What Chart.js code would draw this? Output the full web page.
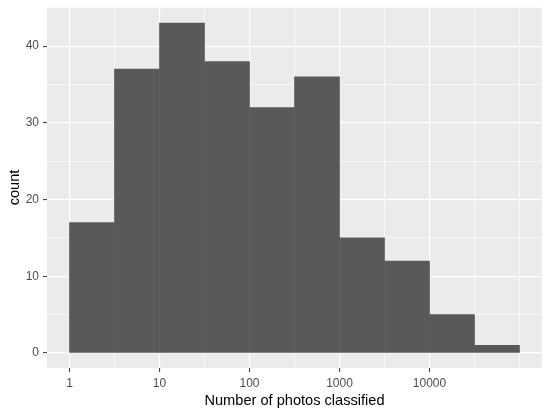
<!DOCTYPE html>
<html>
<head>
<meta charset="utf-8">
<script src="https://cdn.jsdelivr.net/npm/chart.js@4"></script>
<style>
  html, body { margin: 0; padding: 0; background: #ffffff; }
  #wrap { width: 550px; height: 416px; }
</style>
</head>
<body>
<div id="wrap"><canvas id="histo" width="550" height="416"></canvas></div>
<script>
// histogram bins on a log10 scale (bin centres, in log10 units)
var binCentres = [0.25, 0.75, 1.25, 1.75, 2.25, 2.75, 3.25, 3.75, 4.25, 4.75];
var counts = [17, 37, 43, 38, 32, 36, 15, 12, 5, 1];

// axis breaks
var xMajor = [0, 1, 2, 3, 4];            // 1, 10, 100, 1000, 10000
var xMinor = [0.5, 1.5, 2.5, 3.5, 4.5, 5];
var xLabels = ['1', '10', '100', '1000', '10000'];
var yMajor = [0, 10, 20, 30, 40];
var yMinor = [5, 15, 25, 35, 45];

var FONT = "'Liberation Sans', Arial, sans-serif";

function isMajor(list, v) {
  return list.indexOf(v) !== -1;
}

// grey ggplot panel
var panelBg = {
  id: 'panelBg',
  beforeDraw: function (chart) {
    var a = chart.chartArea, c = chart.ctx;
    c.save();
    c.fillStyle = '#EBEBEB';
    c.fillRect(a.left, a.top, a.right - a.left, a.bottom - a.top);
    c.restore();
  }
};

var ctx = document.getElementById('histo').getContext('2d');
var histo = new Chart(ctx, {
  type: 'bar',
  data: {
    datasets: [{
      label: 'count',
      data: binCentres.map(function (x, i) { return { x: x, y: counts[i] }; }),
      backgroundColor: '#595959',
      borderColor: '#595959',
      borderWidth: 0,
      barPercentage: 1,
      categoryPercentage: 1
    }]
  },
  options: {
    responsive: false,
    animation: false,
    layout: { padding: { top: 7, right: 8, left: 0, bottom: 0 } },
    plugins: {
      legend: { display: false },
      tooltip: { enabled: false }
    },
    scales: {
      x: {
        type: 'linear',
        min: -0.25,
        max: 5.25,
        offset: false,
        afterBuildTicks: function (s) {
          s.ticks = xMajor.concat(xMinor).map(function (v) { return { value: v }; });
        },
        afterFit: function (s) { s.height = 48; },
        ticks: {
          autoSkip: false,
          maxRotation: 0,
          padding: 4,
          color: '#4D4D4D',
          font: { family: FONT, size: 12 },
          callback: function (v) {
            var i = xMajor.indexOf(v);
            return i === -1 ? '' : xLabels[i];
          }
        },
        grid: {
          offset: false,
          color: '#FFFFFF',
          lineWidth: function (c) { return c.tick && isMajor(xMajor, c.tick.value) ? 1.2 : 0.7; },
          tickLength: 4,
          tickColor: function (c) { return c.tick && isMajor(xMajor, c.tick.value) ? '#333333' : 'rgba(0,0,0,0)'; },
          tickWidth: 1
        },
        border: { display: false },
        title: {
          display: true,
          text: 'Number of photos classified',
          color: '#000000',
          font: { family: FONT, size: 14.6 },
          padding: { top: 0, bottom: 6 }
        }
      },
      y: {
        min: -1.95,
        max: 45.1,
        afterBuildTicks: function (s) {
          s.ticks = yMajor.concat(yMinor).map(function (v) { return { value: v }; });
        },
        afterFit: function (s) {
          s.width = 47;
          s.paddingTop = 0;
          s.paddingBottom = 0;
        },
        ticks: {
          padding: 4,
          color: '#4D4D4D',
          font: { family: FONT, size: 12 },
          callback: function (v) { return isMajor(yMajor, v) ? String(v) : ''; }
        },
        grid: {
          color: '#FFFFFF',
          lineWidth: function (c) { return c.tick && isMajor(yMajor, c.tick.value) ? 1.2 : 0.7; },
          tickLength: 4,
          tickColor: function (c) { return c.tick && isMajor(yMajor, c.tick.value) ? '#333333' : 'rgba(0,0,0,0)'; },
          tickWidth: 1
        },
        border: { display: false },
        title: {
          display: true,
          text: 'count',
          color: '#000000',
          font: { family: FONT, size: 14.6 },
          padding: { top: 6, bottom: 0 }
        }
      }
    }
  },
  plugins: [panelBg]
});
</script>
</body>
</html>
